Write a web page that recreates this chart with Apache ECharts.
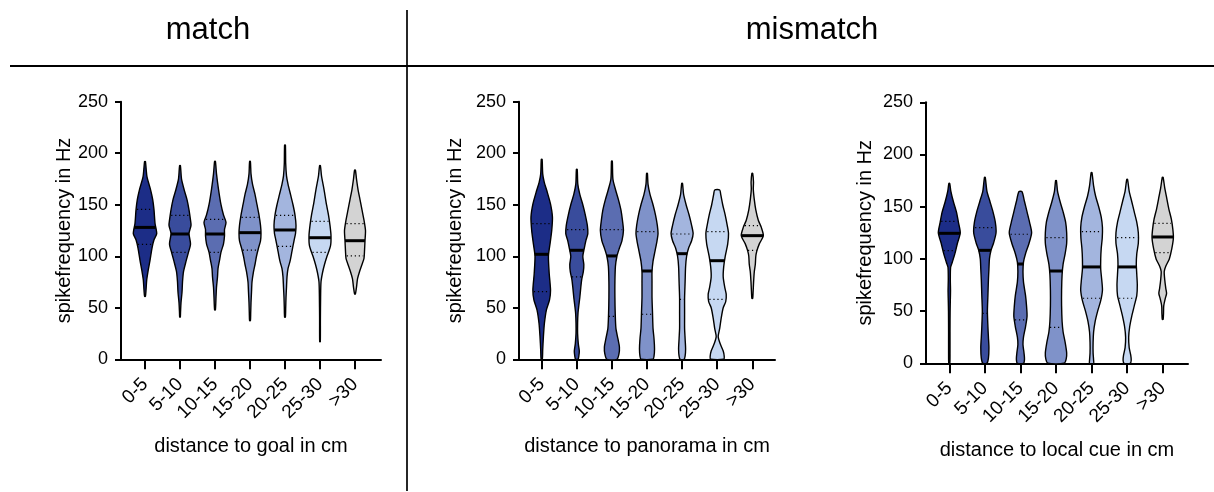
<!DOCTYPE html>
<html>
<head>
<meta charset="utf-8">
<script src="https://cdn.jsdelivr.net/npm/echarts@6/dist/echarts.min.js"></script>
<style>html,body{margin:0;padding:0;background:#fff}#c{width:1214px;height:492px}</style>
</head>
<body>
<div id="c"></div>
<script>
// ---------------- data ----------------
const categories = ['0-5', '5-10', '10-15', '15-20', '20-25', '25-30', '>30'];
const yTicks = [0, 50, 100, 150, 200, 250];
const groupTitles = ['match', 'mismatch'];
const xAxisNames = ['distance to goal in cm', 'distance to panorama in cm', 'distance to local cue in cm'];
const yAxisName = 'spikefrequency in Hz';

// density profiles: [spike frequency, relative density], top to bottom
const goalProfiles = [
  [[192,0.4],[184,1.2],[177,2],[164,5.7],[155,7.7],[145,9],[132,10],[122,11.7],[116,9],[108,7],[96,5],[87,3.3],[77,1.7],[67,1],[61,0.4]],
  [[188,0.4],[175,1.5],[165,4],[155,7],[145,9],[135,10.5],[130,11],[122,9],[112,10.5],[104,8.5],[95,6],[85,3.5],[75,2.5],[65,2],[55,1],[45,0.5],[41,0.3]],
  [[192,0.4],[180,1.5],[165,3.5],[150,6],[140,8.5],[133,11],[126,9.5],[120,9.5],[112,8.5],[104,6],[96,4.5],[88,3],[80,2.5],[70,1.5],[60,1],[48,0.4]],
  [[192,0.4],[180,1],[170,2.5],[160,5],[150,7],[140,9],[130,10.5],[122,11],[115,10.5],[108,8.5],[100,6.5],[92,5],[85,3.5],[75,2],[65,1.5],[55,1],[45,0.7],[37.5,0.4]],
  [[208,0.4],[190,0.7],[178,1.5],[170,3],[160,5.5],[150,8],[140,10],[130,11],[122,10.5],[115,9],[105,7],[95,5],[88,3],[80,2],[70,1.5],[60,1],[50,0.7],[41,0.4]],
  [[188,0.4],[178,1.5],[165,4],[150,6.5],[140,8.5],[130,10],[120,11],[110,10.5],[100,7],[92,4.5],[84,2.5],[75,1],[60,0.6],[40,0.4],[17,0.3]],
  [[183.7,0.4],[175,1.5],[165,3],[155,5],[145,7],[135,9],[125,10.5],[115,10],[105,9.5],[98,9],[92,7],[85,4.5],[78,2.5],[70,1.5],[63.4,0.4]]
];
const goalMedians = [128, 121.6, 121.6, 122.9, 125.5, 118, 115.1];
const goalQ1 = [111.6, 103.8, 103.8, 106, 109.6, 103.8, 100.3];
const goalQ3 = [145.5, 139.7, 135.8, 137.8, 139.7, 133.9, 131.6];

const panoramaProfiles = [
  [[194,0.4],[180,1],[172,2.5],[164,5],[151,8.7],[138,10.7],[125,10],[112,8.3],[100,6.7],[83,7.5],[67,8.8],[57.6,7.8],[48,4.7],[35,2.7],[22,1.7],[9,1],[0,0.6]],
  [[184.3,0.4],[170,1],[160,3],[150,6],[140,8.5],[130,10.5],[122,11],[115,9],[108,7.5],[100,6],[92,7],[85,6.5],[78,5],[70,4],[60,3],[52,2],[45,1.2],[35,0.8],[25,0.8],[15,1.5],[8,2.5],[3,2],[0,1.2]],
  [[192.4,0.4],[175,1],[165,3.5],[155,6.5],[145,9],[135,10.5],[125,11.5],[115,10],[108,7.5],[100,5],[90,3.5],[75,3],[60,3],[45,3.3],[30,4],[20,6],[12,7.5],[5,7],[0,5]],
  [[180.5,0.4],[170,1],[160,3],[150,6],[140,8.5],[130,10.3],[122,11],[115,10],[105,8],[95,6],[85,5],[75,5],[60,5],[45,5.5],[30,6],[20,7],[10,7.5],[3,7],[0,6]],
  [[170.8,0.4],[160,1.5],[150,4],[140,7],[130,9.5],[122,11],[115,9.5],[108,6.5],[100,4.5],[90,3.5],[75,3],[60,2.5],[45,2.5],[30,2.5],[20,3],[10,3.5],[3,3],[0,2]],
  [[164.3,2.5],[160,3.5],[150,5.5],[140,8],[130,10],[122,11.3],[112,10.5],[100,8],[90,6.5],[80,6],[70,7.5],[63,9],[56,8.5],[50,6],[40,4],[30,2.5],[22,1],[15,3],[8,6],[3,7],[0,6.5]],
  [[180.5,0.4],[172,1.2],[165,1],[155,2],[145,3.5],[135,6],[128,9],[120,11],[112,7],[105,4.5],[100,3.5],[92,3],[85,2],[75,1.3],[65,0.8],[59.2,0.4]]
];
const panoramaMedians = [101.9, 105.8, 100.3, 85.7, 102.5, 95.7, 120];
const panoramaQ1 = [65.7, 79.9, 41.7, 43.7, 58.2, 58.2, 105.8];
const panoramaQ3 = [131.6, 125.8, 125.8, 123.9, 121.6, 123.9, 129.7];

const cueProfiles = [
  [[172.4,0.4],[165,1.5],[155,4],[145,7],[135,9],[125,10.8],[115,8],[105,5.5],[97,3],[92,1.3],[80,1],[70,1.2],[60,1],[50,0.8],[30,0.7],[10,0.7],[0,0.5]],
  [[178.2,0.4],[165,2],[155,5],[145,8],[135,10.3],[125,11],[115,8.5],[108,6],[100,4.5],[90,4],[80,3.5],[65,3],[50,2.5],[35,3],[25,3.5],[15,4],[5,3.5],[0,2]],
  [[164.4,1.5],[155,4],[145,6.5],[135,9],[125,11],[115,8.5],[105,5],[97,3],[88,2.5],[78,3],[65,5],[55,6],[45,6.5],[35,5],[25,3],[18,2.5],[10,3.5],[4,4],[0,3]],
  [[175,0.4],[165,1.5],[155,4],[145,7],[135,9.5],[125,10.5],[115,10.5],[105,9],[95,7],[85,6],[70,5.5],[55,5.5],[40,6],[30,7],[20,9],[10,10.5],[4,10],[0,8]],
  [[182.6,0.4],[170,2],[160,4],[150,7],[140,9.5],[130,10.7],[120,10.5],[110,9.5],[100,9],[90,9],[80,10],[70,10.7],[60,9],[50,6],[40,3.5],[30,2],[20,1.5],[10,1.5],[3,2],[0,2]],
  [[176.2,0.4],[165,2],[155,4.5],[145,7],[135,9.5],[125,11],[115,11],[105,9.5],[95,9],[85,9.5],[75,10],[65,9.5],[55,7],[45,4.5],[35,2.5],[25,1.5],[15,2],[8,3.5],[3,4],[0,3]],
  [[178.2,0.4],[168,2],[158,4],[148,6],[138,8.5],[128,10],[120,10.5],[110,9],[100,6.5],[93,3],[88,1.5],[80,2],[72,3],[67,3.8],[62,2.5],[55,1],[48,0.8],[42.1,0.4]]
];
const cueMedians = [124.5, 108.2, 95.1, 88.4, 92.3, 92.3, 121];
const cueQ1 = [107.9, 47.9, 41.5, 34.5, 62.3, 62.3, 106];
const cueQ3 = [136, 130, 123.6, 120.4, 126.1, 120.4, 134.1];

const colors = ['#1c2d87', '#394c9c', '#5b6db1', '#7f92c9', '#a3b5de', '#c6d8f2', '#d3d3d3'];

// ---------------- drawing ----------------
const FONT = 'Arial, "Liberation Sans", sans-serif';
const DENS = 1 / 35; // relative density -> category units

function densAt(prof, v) {
  for (let k = 0; k < prof.length - 1; k++) {
    const a = prof[k], b = prof[k + 1];
    if (v <= a[0] && v >= b[0]) {
      const t = (a[0] - v) / (a[0] - b[0]);
      return a[1] + t * (b[1] - a[1]);
    }
  }
  return 0;
}

function makeRender(profiles, med, q1, q3) {
  return function (params, api) {
    const i = api.value(0);
    const prof = profiles[i];
    const pts = [];
    prof.forEach(p => pts.push(api.coord([i - p[1] * DENS, p[0]])));
    for (let k = prof.length - 1; k >= 0; k--) pts.push(api.coord([i + prof[k][1] * DENS, prof[k][0]]));
    const children = [{
      type: 'polygon',
      shape: { points: pts, smooth: 0.25 },
      style: { fill: colors[i], stroke: '#000', lineWidth: 1.4 }
    }];
    const hline = (v, style, shrink) => {
      const w = densAt(prof, v) * DENS * shrink;
      const a = api.coord([i - w, v]), b = api.coord([i + w, v]);
      return { type: 'line', shape: { x1: a[0], y1: a[1], x2: b[0], y2: b[1] }, style: style };
    };
    children.push(hline(q1[i], { stroke: '#000', lineWidth: 1.2, lineDash: [1.2, 2.8] }, 0.9));
    children.push(hline(q3[i], { stroke: '#000', lineWidth: 1.2, lineDash: [1.2, 2.8] }, 0.9));
    children.push(hline(med[i], { stroke: '#000', lineWidth: 3 }, 1.0));
    return { type: 'group', children: children };
  };
}

const grids = [
  { left: 121, top: 101.7, width: 260, height: 257.6, outerBoundsMode: 'none' },
  { left: 519, top: 101.7, width: 256, height: 257.6, outerBoundsMode: 'none' },
  { left: 926, top: 102.3, width: 262, height: 261, outerBoundsMode: 'none' }
];
const xRanges = [[-0.686, 6.743], [-0.647, 6.647], [-0.655, 6.711]];
const yNameGaps = [46, 54, 51];
const catIdx = categories.map((c, i) => i);

const xAxes = grids.map((g, gi) => ({
  type: 'value', gridIndex: gi, min: xRanges[gi][0], max: xRanges[gi][1],
  name: xAxisNames[gi], nameLocation: 'middle', nameGap: 77,
  nameTextStyle: { fontSize: 20, color: '#000', fontFamily: FONT },
  axisLine: { show: true, onZero: false, lineStyle: { color: '#000', width: 2 } },
  axisTick: { show: true, customValues: catIdx, length: 10, lineStyle: { color: '#000', width: 2 } },
  axisLabel: { show: true, customValues: catIdx, rotate: 45, margin: 22, fontSize: 19, color: '#000', fontFamily: FONT,
    padding: [0, 0, 0, 0], formatter: v => categories[Math.round(v)] },
  splitLine: { show: false }
}));
const yAxes = grids.map((g, gi) => ({
  type: 'value', gridIndex: gi, min: 0, max: 250, interval: 50,
  name: yAxisName, nameLocation: 'middle', nameGap: yNameGaps[gi],
  nameTextStyle: { fontSize: 20, color: '#000', fontFamily: FONT },
  axisLine: { show: true, onZero: false, lineStyle: { color: '#000', width: 2 } },
  axisTick: { show: true, length: 6, lineStyle: { color: '#000', width: 2 } },
  axisLabel: { margin: 13, fontSize: 18, color: '#000', fontFamily: FONT, customValues: yTicks },
  splitLine: { show: false }
}));

const panels = [
  [goalProfiles, goalMedians, goalQ1, goalQ3],
  [panoramaProfiles, panoramaMedians, panoramaQ1, panoramaQ3],
  [cueProfiles, cueMedians, cueQ1, cueQ3]
];
const series = panels.map((p, gi) => ({
  type: 'custom', xAxisIndex: gi, yAxisIndex: gi,
  renderItem: makeRender(p[0], p[1], p[2], p[3]),
  data: catIdx.map(i => [i]),
  encode: { x: 0 },
  silent: true, clip: false
}));

const chart = echarts.init(document.getElementById('c'), null, { renderer: 'canvas' });
chart.setOption({
  animation: false,
  backgroundColor: '#fff',
  grid: grids, xAxis: xAxes, yAxis: yAxes, series: series,
  graphic: [
    { type: 'text', x: 208, y: 30, style: { text: groupTitles[0], fontSize: 31, fontFamily: FONT, fill: '#000', align: 'center', verticalAlign: 'middle' } },
    { type: 'text', x: 812, y: 30, style: { text: groupTitles[1], fontSize: 31, fontFamily: FONT, fill: '#000', align: 'center', verticalAlign: 'middle' } },
    { type: 'line', shape: { x1: 10, y1: 66, x2: 1214, y2: 66 }, style: { stroke: '#000', lineWidth: 2 } },
    { type: 'line', shape: { x1: 407, y1: 10, x2: 407, y2: 491 }, style: { stroke: '#000', lineWidth: 1.7 } }
  ]
});
</script>
</body>
</html>
